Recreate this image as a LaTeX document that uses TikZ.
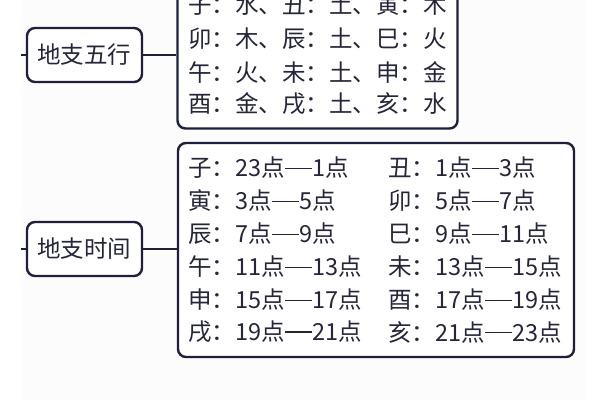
\documentclass[tikz,border=0pt]{standalone}
\usepackage{fontspec}
\setmainfont{Noto Sans CJK SC}
\newcommand\longdash{\kern0.5pt\rule[0.32em]{27pt}{1.8pt}\kern0.5pt}
\begin{document}
\begin{tikzpicture}[x=1pt,y=-1pt,
  line/.style={draw=navy, line width=2.4pt},
  labelbox/.style={line, rounded corners=8pt, fill=white, minimum width=115pt, minimum height=54pt, inner sep=0pt, font=\fontsize{23.5}{26}\selectfont, text=ink},
  panel/.style={line, rounded corners=8pt, fill=white, inner sep=0pt},
  row/.style={anchor=west, inner sep=0pt, font=\fontsize{23.5}{26}\selectfont, text=ink}]
\definecolor{navy}{HTML}{1E1F3D}
\definecolor{ink}{HTML}{26263A}
\useasboundingbox (0,0) rectangle (600,400);
\fill[white] (0,0) rectangle (600,400);
\fill[black!1] (20,0) rectangle (588,400);
% panels
\node[panel, minimum width=280pt, minimum height=148pt] (p1) at (317.5,54.5) {};
\node[panel, minimum width=396pt, minimum height=214pt] (p2) at (376,250) {};
% labels
\node[labelbox] (l1) at (84.5,55) {地支五行};
\node[labelbox] (l2) at (84.5,249) {地支时间};
\coordinate (s1) at (21,55);
\coordinate (s2) at (21,249);
\draw[line] (s1) -- (l1.west);
\draw[line] (s2) -- (l2.west);
\draw[line] (l1.east) -- (p1.west |- l1.east);
\draw[line] (l2.east) -- (p2.west |- l2.east);
% panel 1 rows
\node[row] (a1) at (188,5) {子：水、丑：土、寅：木};
\node[row] (a2) at (188,39) {卯：木、辰：土、巳：火};
\node[row] (a3) at (188,72) {午：火、未：土、申：金};
\node[row] (a4) at (188,104) {酉：金、戌：土、亥：水};
% panel 2 rows
\node[row] (b1) at (188,168) {子：23点\longdash 1点};
\node[row] (b2) at (188,201) {寅：3点\longdash 5点};
\node[row] (b3) at (188,234) {辰：7点\longdash 9点};
\node[row] (b4) at (188,267) {午：11点\longdash 13点};
\node[row] (b5) at (188,300) {申：15点\longdash 17点};
\node[row] (b6) at (188,332) {戌：19点\longdash 21点};
\node[row] (c1) at (388,168) {丑：1点\longdash 3点};
\node[row] (c2) at (388,201) {卯：5点\longdash 7点};
\node[row] (c3) at (388,234) {巳：9点\longdash 11点};
\node[row] (c4) at (388,267) {未：13点\longdash 15点};
\node[row] (c5) at (388,300) {酉：17点\longdash 19点};
\node[row] (c6) at (388,332) {亥：21点\longdash 23点};
\end{tikzpicture}
\end{document}
